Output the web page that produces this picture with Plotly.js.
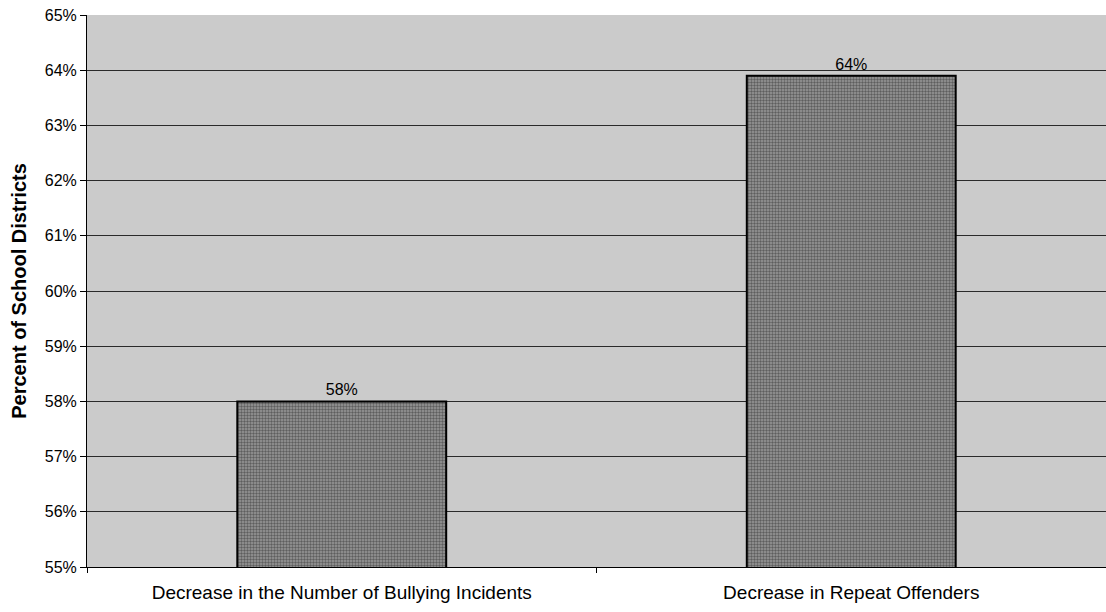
<!DOCTYPE html>
<html>
<head>
<meta charset="utf-8">
<script src="https://cdn.plot.ly/plotly-3.0.1.min.js"></script>
<style>html,body{margin:0;padding:0;background:#fff;}#chart{width:1106px;height:612px;}</style>
</head>
<body>
<div id="chart"></div>
<script>
const categories = ["Decrease in the Number of Bullying Incidents", "Decrease in Repeat Offenders"];
const percentValues = [58.0, 63.9];
const barLabels = ["58%", "64%"];
const yTickValues = [55, 56, 57, 58, 59, 60, 61, 62, 63, 64, 65];
const yTickLabels = ["55%", "56%", "57%", "58%", "59%", "60%", "61%", "62%", "63%", "64%", "65%"];

const trace = {
  type: "bar",
  x: categories,
  y: percentValues,
  text: barLabels,
  textposition: "outside",
  cliponaxis: false,
  textfont: {family: "Arial, Liberation Sans, sans-serif", size: 16, color: "#000"},
  marker: {
    color: "#888888",
    line: {color: "#000", width: 2},
    pattern: {shape: ".", fgcolor: "#5e5e5e", bgcolor: "#9a9a9a", size: 3, solidity: 0.5}
  },
  hoverinfo: "none"
};

const layout = {
  width: 1106, height: 612,
  margin: {l: 87, r: 0, t: 15, b: 45},
  paper_bgcolor: "#ffffff",
  plot_bgcolor: "#cbcbcb",
  bargap: 0.59,
  showlegend: false,
  font: {family: "Arial, Liberation Sans, sans-serif", color: "#000"},
  xaxis: {
    type: "category",
    tickson: "boundaries",
    ticks: "outside",
    ticklen: 5,
    tickcolor: "#000",
    showline: true,
    linecolor: "#000",
    linewidth: 1,
    showgrid: false,
    tickfont: {size: 19, color: "#000"},
    ticklabelstandoff: 8
  },
  yaxis: {
    range: [55, 65],
    tickvals: yTickValues,
    ticktext: yTickLabels,
    ticks: "outside",
    ticklen: 6,
    tickcolor: "#000",
    showline: true,
    linecolor: "#000",
    linewidth: 1,
    showgrid: true,
    gridcolor: "#2a2a2a",
    gridwidth: 1,
    zeroline: false,
    tickfont: {size: 16, color: "#000"},
    title: {text: "Percent of School Districts", font: {size: 20, color: "#000", weight: "bold"}, standoff: 12}
  }
};

Plotly.newPlot("chart", [trace], layout, {displayModeBar: false, staticPlot: true});
</script>
</body>
</html>
